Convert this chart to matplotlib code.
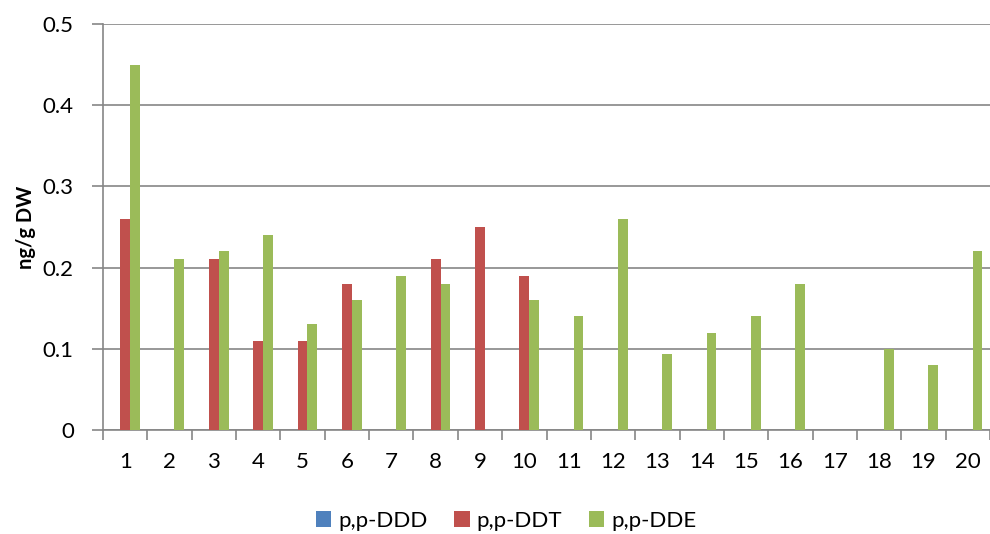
import numpy as np
import matplotlib
matplotlib.use('Agg')
import matplotlib.pyplot as plt

plt.rcParams['font.family'] = ['Lato', 'DejaVu Sans']

# sample stations
stations = [str(i) for i in range(1, 21)]
ddd = [0.0] * 20
ddt = [0.26, 0, 0.21, 0.11, 0.11, 0.18, 0, 0.21, 0.25, 0.19,
       0, 0, 0, 0, 0, 0, 0, 0, 0, 0]
dde = [0.45, 0.21, 0.22, 0.24, 0.13, 0.16, 0.19, 0.18, 0, 0.16,
       0.14, 0.26, 0.094, 0.12, 0.14, 0.18, 0, 0.10, 0.08, 0.22]
series_names = ['p,p-DDD', 'p,p-DDT', 'p,p-DDE']
colors = ['#4F81BD', '#C0504D', '#9BBB59']

fig = plt.figure(figsize=(9.9, 5.34), dpi=100)
ax = fig.add_axes([103/990, 1-430/534, 1-103/990, (430-24)/534])

x = np.arange(len(stations))
w = 0.22
for k, vals in enumerate([ddd, ddt, dde]):
    ax.bar(x + (k-1)*w, vals, width=w, color=colors[k], label=series_names[k], zorder=3)

ax.set_xlim(-0.5, 19.28)
ax.set_ylim(0, 0.5)
ax.set_yticks([0, 0.1, 0.2, 0.3, 0.4, 0.5])
ax.set_yticklabels(['0', '0.1', '0.2', '0.3', '0.4', '0.5'])
ax.yaxis.grid(True, color='#868686', linewidth=1.2, zorder=0)

# category boundary ticks
ax.set_xticks(np.arange(-0.5, 20, 1.0))
ax.set_xticklabels([])
ax.set_xticks(x, minor=True)
ax.set_xticklabels(stations, minor=True)
ax.tick_params(axis='x', which='major', length=7, width=1.2, color='#868686', direction='out')
ax.tick_params(axis='x', which='minor', length=0, pad=16, labelsize=16)
ax.tick_params(axis='y', length=8, width=1.2, color='#868686', pad=13, labelsize=16)

for s in ['top', 'right']:
    ax.spines[s].set_visible(False)
for s in ['left', 'bottom']:
    ax.spines[s].set_color('#868686')
    ax.spines[s].set_linewidth(1.2)

fig.text(26/990, 1-227/534, 'ng/g DW', rotation=90, ha='center', va='center',
         fontsize=14.5, fontweight='bold')

fig.legend(loc='center', bbox_to_anchor=(506/990, 1-521/534), ncol=3, frameon=False,
           fontsize=16, handlelength=0.7, handleheight=0.7, handletextpad=0.3,
           columnspacing=1.2)

fig.savefig('out.png', dpi=100)
